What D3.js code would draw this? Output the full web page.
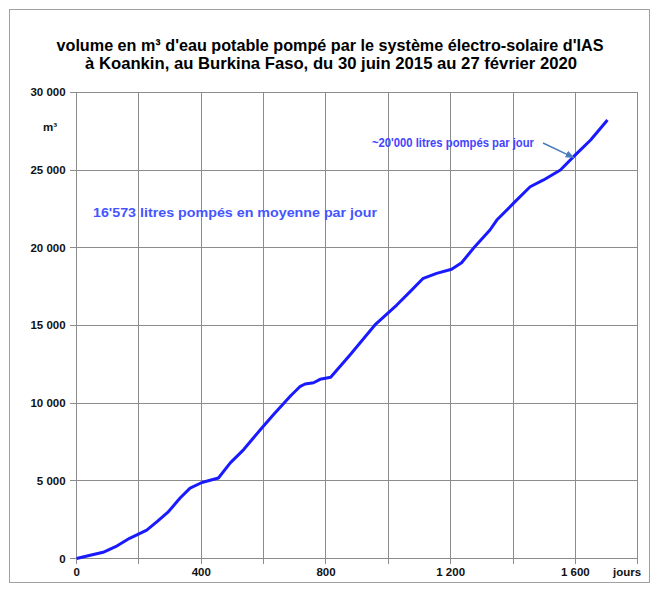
<!DOCTYPE html>
<html>
<head>
<meta charset="utf-8">
<script src="https://cdn.jsdelivr.net/npm/d3@7"></script>
<style>
  body { margin: 0; background: #fff; }
  text { font-family: "Liberation Sans", Arial, sans-serif; font-weight: bold; }
</style>
</head>
<body>
<svg id="chart" width="657" height="590"></svg>
<script>
// jours depuis le 30 juin 2015 et volume cumulé en m³
var jours = [0, 30, 85, 125, 170, 225, 258, 295, 332, 364, 402, 455, 493, 536, 590, 632, 686,
  716, 733, 760, 781, 815, 877, 957, 1027, 1070, 1112, 1155, 1203, 1235, 1273, 1326, 1348,
  1401, 1455, 1498, 1552, 1600, 1649, 1703];
var volumes = [0, 140, 400, 760, 1300, 1830, 2370, 3020, 3890, 4530, 4890, 5180, 6150, 7010,
  8300, 9270, 10460, 11055, 11230, 11310, 11530, 11660, 13100, 15030, 16310, 17170, 18030,
  18350, 18610, 19030, 19960, 21140, 21780, 22850, 23920, 24360, 25000, 25970, 26930, 28220];

var xTicks = [0, 200, 400, 600, 800, 1000, 1200, 1400, 1600, 1800];
var xLabels = [0, 400, 800, 1200, 1600];
var yTicks = [0, 5000, 10000, 15000, 20000, 25000, 30000];

var titre = ["volume en m³ d'eau potable pompé par le système électro-solaire d'IAS",
  "à Koankin, au Burkina Faso, du 30 juin 2015 au 27 février 2020"];

var svg = d3.select("#chart"),
    margin = {left: 76.6, right: 19.3, top: 92.3, bottom: 31.5},
    width = +svg.attr("width") - margin.left - margin.right,
    height = +svg.attr("height") - margin.top - margin.bottom;

// cadre
svg.append("rect")
    .attr("x", 9.5).attr("y", 9.5)
    .attr("width", 640).attr("height", 573)
    .attr("fill", "none")
    .attr("stroke", "#a0a0a0");

// titre
svg.append("text")
    .attr("x", 330).attr("y", 51)
    .attr("text-anchor", "middle")
    .attr("font-size", 17)
    .attr("textLength", 547).attr("lengthAdjust", "spacingAndGlyphs")
    .text(titre[0]);
svg.append("text")
    .attr("x", 331).attr("y", 69)
    .attr("text-anchor", "middle")
    .attr("font-size", 17)
    .attr("textLength", 492).attr("lengthAdjust", "spacingAndGlyphs")
    .text(titre[1]);

var x = d3.scaleLinear().domain([0, 1800]).range([0, width]);
var y = d3.scaleLinear().domain([0, 30000]).range([height, 0]);

var g = svg.append("g").attr("transform", "translate(" + margin.left + "," + margin.top + ")");

// grille
g.selectAll(".gx")
  .data(xTicks)
  .enter().append("line")
    .attr("x1", x).attr("x2", x)
    .attr("y1", 0).attr("y2", height + 5)
    .attr("stroke", "#8c8c8c")
    .attr("shape-rendering", "crispEdges");

g.selectAll(".gy")
  .data(yTicks)
  .enter().append("line")
    .attr("x1", -7).attr("x2", width)
    .attr("y1", y).attr("y2", y)
    .attr("stroke", "#8c8c8c")
    .attr("shape-rendering", "crispEdges");

// étiquettes des axes
var fmt = function(d) { return d3.format(",")(d).replace(/,/g, " "); };

g.selectAll(".ly")
  .data(yTicks)
  .enter().append("text")
    .attr("x", -11)
    .attr("y", y)
    .attr("dy", "0.35em")
    .attr("text-anchor", "end")
    .attr("font-size", 11.5)
    .attr("fill", "#111")
    .text(fmt);

g.selectAll(".lx")
  .data(xLabels)
  .enter().append("text")
    .attr("x", x)
    .attr("y", height + 18)
    .attr("text-anchor", "middle")
    .attr("font-size", 11.5)
    .attr("fill", "#111")
    .text(fmt);

svg.append("text")
    .attr("x", 627).attr("y", 576)
    .attr("text-anchor", "middle")
    .attr("font-size", 11.5)
    .attr("fill", "#111")
    .text("jours");

svg.append("text")
    .attr("x", 50).attr("y", 131)
    .attr("text-anchor", "middle")
    .attr("font-size", 11.5)
    .attr("fill", "#111")
    .text("m³");

// courbe
var line = d3.line()
    .x(function(d, i) { return x(jours[i]); })
    .y(function(d) { return y(d); });

g.append("path")
    .datum(volumes)
    .attr("fill", "none")
    .attr("stroke", "#1a1aff")
    .attr("stroke-width", 3)
    .attr("stroke-linejoin", "round")
    .attr("d", line);

// annotations
svg.append("text")
    .attr("x", 93).attr("y", 217)
    .attr("font-size", 13.5)
    .attr("fill", "#4455ff")
    .attr("textLength", 284).attr("lengthAdjust", "spacingAndGlyphs")
    .text("16'573 litres pompés en moyenne par jour");

svg.append("text")
    .attr("x", 372).attr("y", 147)
    .attr("font-size", 12.5)
    .attr("fill", "#4444ff")
    .attr("textLength", 162).attr("lengthAdjust", "spacingAndGlyphs")
    .text("~20'000 litres pompés par jour");

svg.append("defs").append("marker")
    .attr("id", "fleche")
    .attr("viewBox", "0 0 10 10")
    .attr("refX", 9).attr("refY", 5)
    .attr("markerWidth", 6).attr("markerHeight", 6)
    .attr("orient", "auto")
  .append("path")
    .attr("d", "M0,1 L10,5 L0,9 Z")
    .attr("fill", "#4a7ebb");

svg.append("line")
    .attr("x1", 543).attr("y1", 143)
    .attr("x2", x(1595) + margin.left).attr("y2", y(25800) + margin.top)
    .attr("stroke", "#4a7ebb")
    .attr("stroke-width", 1.5)
    .attr("marker-end", "url(#fleche)");
</script>
</body>
</html>
